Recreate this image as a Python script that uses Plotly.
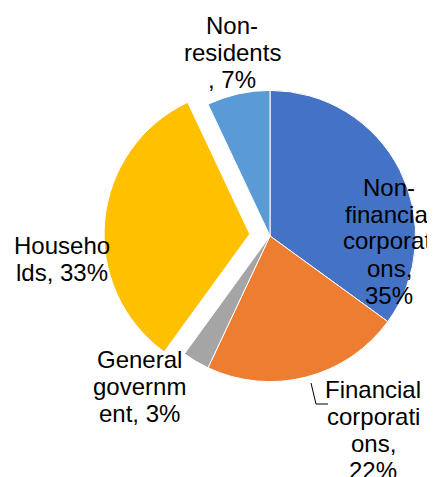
import plotly.graph_objects as go

# data
sectors = ["Non-financial corporations", "Financial corporations",
           "General government", "Households", "Non-residents"]
shares = [35, 22, 3, 33, 7]
colors = ["#4472C4", "#ED7D31", "#A5A5A5", "#FFC000", "#5B9BD5"]
pulls = [0, 0, 0, 0.14, 0]

# wrapped label lines, as in the source chart
label_lines = [
    ["Non-", "financial", "corporati", "ons,", "35%"],
    ["Financial", "corporati", "ons,", "22%"],
    ["General", "governm", "ent, 3%"],
    ["Househo", "lds, 33%"],
    ["Non-", "residents", ", 7%"],
]
# label anchor (centre x, first line centre y) in pixels
label_pos = [(381, 179), (365, 381), (131, 351), (54, 237), (224, 18)]

W, H = 435, 477
LINE = 27
CX, CY, HALF = 262, 228, 166   # pie box centre / half size, px

fig = go.Figure(go.Pie(
    labels=sectors,
    values=shares,
    sort=False,
    direction="clockwise",
    rotation=0,
    pull=pulls,
    marker={"colors": colors, "line": {"color": "white", "width": 1}},
    textinfo="none",
    hoverinfo="label+percent",
    domain={"x": [(CX - HALF) / W, min(1, (CX + HALF) / W)],
            "y": [(H - CY - HALF) / H, (H - CY + HALF) / H]},
))

for lines, (cx, cy) in zip(label_lines, label_pos):
    for i, txt in enumerate(lines):
        fig.add_annotation(
            x=cx / W, y=1 - (cy + i * LINE) / H,
            xref="paper", yref="paper",
            text=txt, showarrow=False,
            xanchor="center", yanchor="middle",
            font={"size": 24, "color": "#000000",
                  "family": "Liberation Sans, Arial, sans-serif"},
        )

# leader line for Financial corporations
fig.add_shape(
    type="path", xref="paper", yref="paper",
    path=f"M {303 / W} {1 - 375 / H} L {308 / W} {1 - 396 / H} L {320 / W} {1 - 396 / H}",
    line={"color": "#000000", "width": 1},
)

fig.update_layout(
    width=W, height=H,
    margin={"l": 0, "r": 0, "t": 0, "b": 0},
    paper_bgcolor="white",
    showlegend=False,
)

fig.write_html("out.html")
